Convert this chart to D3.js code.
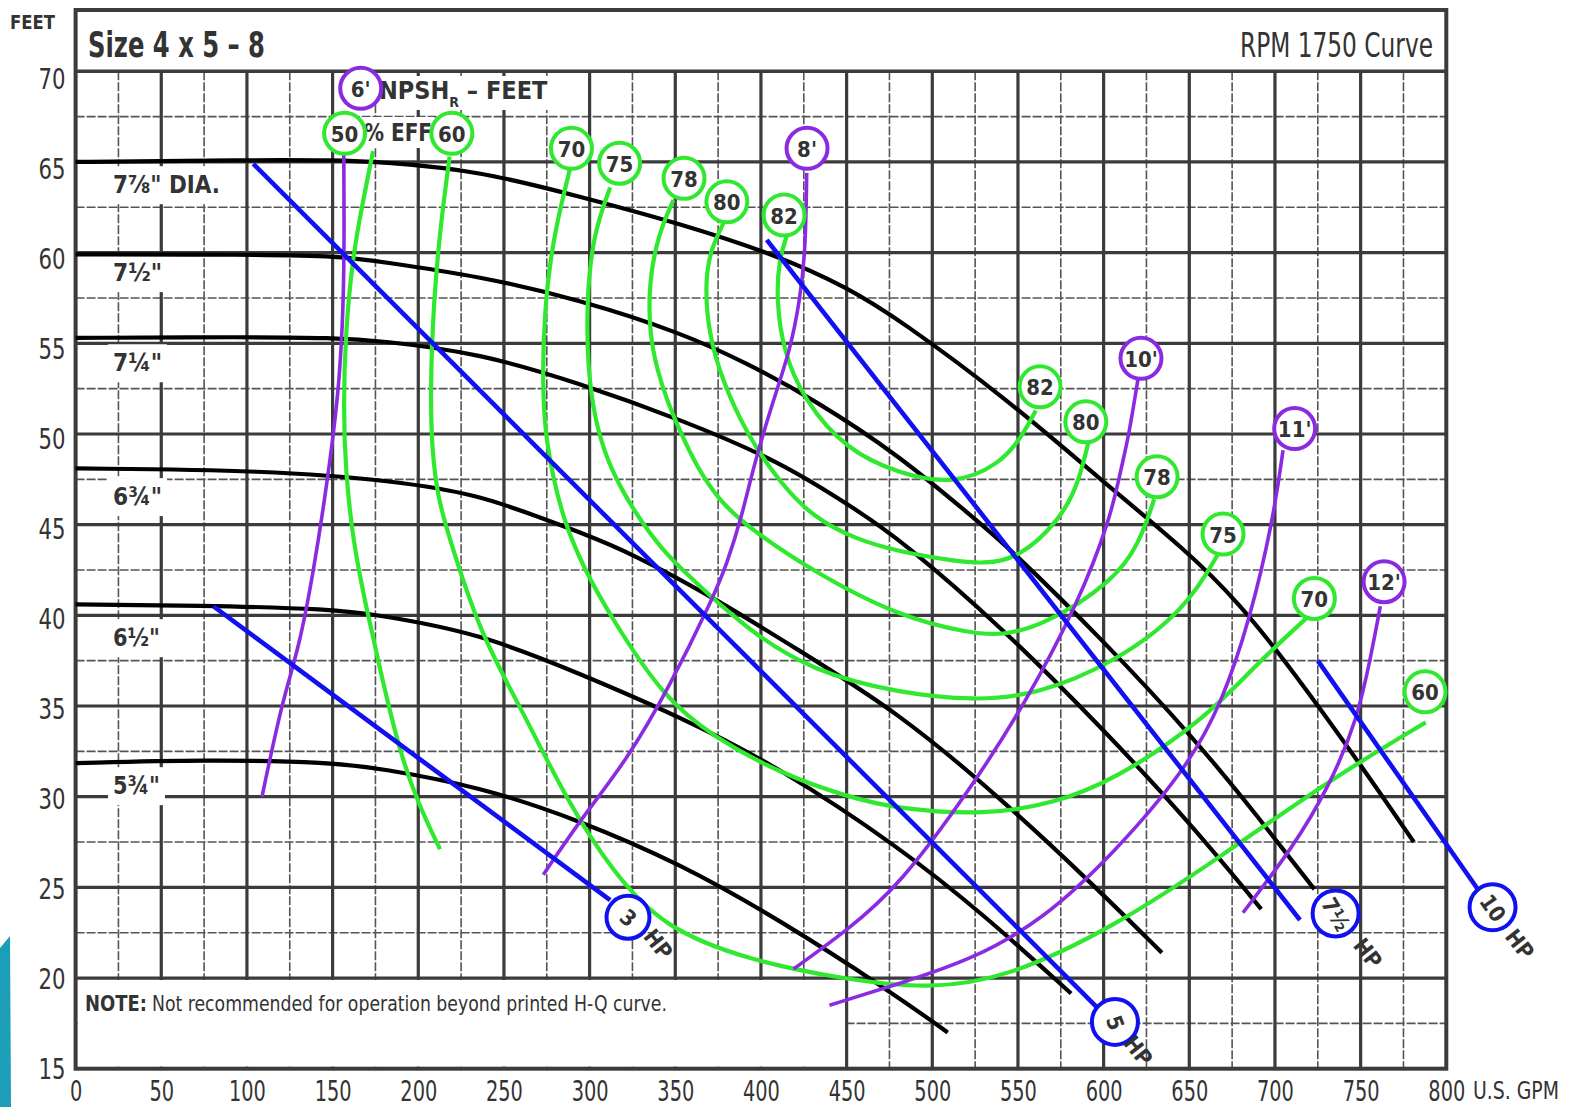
<!DOCTYPE html>
<html><head><meta charset="utf-8">
<script src="https://cdn.jsdelivr.net/npm/d3@7"></script>
<style>
body{margin:0;background:#fff;}
svg{display:block;}
</style></head><body>
<svg id="c" width="1572" height="1107"></svg>
<script>
// ---------- DATA ----------
const xTicks = [0,50,100,150,200,250,300,350,400,450,500,550,600,650,700,750,800];
const xTickLabels = ["0","50","100","150","200","250","300","350","400","450","500","550","600","650","700","750","800"];
const yTicks = [15,20,25,30,35,40,45,50,55,60,65,70];
const yTickLabels = ["15","20","25","30","35","40","45","50","55","60","65","70"];

// Impeller H-Q curves [gpm, feet]
const dia7875 = [[0,65.0],[50,65.05],[100,65.1],[150,65.1],[180,65.0],[236,64.5],[294,63.1],[353,61.6],[411,59.8],[450,58.1],[481,56.3],[544,51.9],[598,47.5],[648,43.6],[679,40.7],[710,37.0],[752,31.5],[781,27.5]];
const dia75   = [[0,59.9],[100,59.9],[156,59.8],[178,59.5],[236,58.7],[294,57.4],[353,55.6],[392,53.9],[431,51.9],[481,48.8],[525,45.3],[544,43.8],[600,38.6],[654,33.1],[690,28.9],[723,24.9]];
const dia725  = [[0,55.3],[100,55.35],[150,55.3],[178,55.15],[236,54.45],[294,52.8],[353,50.8],[411,48.5],[456,45.8],[481,44.2],[540,39.4],[600,33.7],[650,28.6],[692,23.8]];
const dia675  = [[0,48.1],[111,48.0],[189,47.4],[236,46.6],[265,45.6],[294,44.6],[325,43.4],[372,41.0],[420,38.2],[481,34.6],[540,29.9],[590,25.5],[634,21.4]];
const dia65   = [[0,40.6],[72,40.55],[150,40.35],[178,40.0],[236,39.0],[294,36.8],[353,34.4],[411,31.6],[481,27.2],[530,23.5],[581,19.15]];
const dia575  = [[0,31.85],[75,32.05],[150,31.9],[178,31.55],[236,30.55],[294,28.7],[353,26.3],[411,23.2],[475,19.3],[509,17.0]];
const diaLabels = ["7⅞\" DIA.","7½\"","7¼\"","6¾\"","6½\"","5¾\""];
const diaLabelFeet = [63.72,58.87,53.9,46.52,38.74,30.58];
const diaLabelWidth = [107,49,49,49,47,47];

// Efficiency curves [gpm, feet]
const eff50 = [[173.6,65.6],[167,62.5],[161.5,59.6],[157.5,55.5],[156.3,51.5],[157.5,48],[162,44],[169.5,40.5],[177.7,37.0],[189,32.5],[200,29.6],[212.7,27.1]];
const eff60 = [[218.3,65.3],[213,61.5],[209,57.4],[207,52.5],[208,49],[211.5,46.5],[217,44.6],[236,39.0],[259.4,35.0],[286.6,29.8],[313.8,25.8],[343,22.8],[391.7,21.0],[450,19.9],[498,19.4],[543.6,20.0],[606,22.8],[668.6,26.7],[731.4,30.9],[788,34.1]];
const eff70 = [[288.5,64.6],[283,62.5],[277.5,60],[273.5,56.5],[272.5,53],[274,50],[279,47.5],[285,45.2],[297,42.5],[313.8,39.7],[343,35.5],[372,33.3],[411,31.3],[450,30.0],[481,29.3],[531,29.0],[570,29.6],[606,30.9],[658.4,34.2],[689.6,37.35],[719,39.9]];
const eff75 = [[312,63.6],[302,61],[298.3,57.4],[298.8,53.7],[303,50.8],[310,48.6],[320,46.7],[330,45.2],[341,43.8],[352.8,42.6],[391.7,39.2],[430.5,36.9],[481,35.7],[525,35.3],[560,35.6],[606,37.35],[648,40.3],[667.5,43.5]];
const eff78 = [[348.9,62.9],[340,61],[334.5,58.3],[335,55.5],[339.5,53.5],[345,51.9],[353,50.1],[362.5,48.2],[375,46.4],[391.7,44.9],[430.5,42.4],[481,39.9],[522.8,39.0],[540,38.9],[564.5,39.4],[606.2,41.9],[621,44],[629.5,46.4]];
const eff80 = [[378,61.6],[370.3,60.1],[367.4,58.3],[369.3,55.55],[378,52.8],[391.7,50.0],[411.1,47.3],[430.6,45.4],[455,44.2],[481,43.5],[512.5,43.0],[530,42.85],[550,43.1],[575,45.3],[585.4,47.3],[591.5,49.7]];
const eff82 = [[415,60.9],[410.5,59.6],[409,57.4],[413,54.6],[424.8,51.9],[450,49.1],[481,47.8],[512,47.2],[539,48.3],[552,49.8],[560.4,51.3]];
const effLabelText = ["50","60","70","75","78","80","82","82","80","78","75","70","60"];
const effLabelGpm  = [157,219.6,289.4,317.5,355.1,380.1,413.5,562.9,589.6,631.2,669.7,723,787.6];
const effLabelFeet = [66.58,66.58,65.75,64.93,64.1,62.8,62.07,52.6,50.67,47.64,44.48,40.93,35.78];

// NPSHr curves [gpm, feet]
const npsh6  = [[156.5,65.8],[156.8,61],[156.3,57],[154,53],[150.5,50],[146,46.8],[139,42.5],[130.4,38.2],[120.6,35.3],[108.8,30.0]];
const npsh8  = [[426.7,64.4],[426,60.1],[422.8,57.4],[417,54.6],[407.3,51.9],[395.6,48.2],[389,45.5],[380,42.8],[372.2,41.0],[346.9,36.1],[321.7,32.0],[294.4,28.7],[273,25.7]];
const npsh10 = [[620,53.0],[614.5,49.8],[610.4,48.2],[604.2,45.4],[585.4,40.7],[554,35.1],[522.8,30.5],[481,25.1],[450,22.6],[419,20.5]];
const npsh11 = [[704.7,49.1],[699,45.3],[685.5,39.8],[668.8,35.1],[648,31.5],[606.3,26.9],[564.6,23.2],[522.8,21.0],[481,19.7],[440,18.5]];
const npsh12 = [[761.5,40.5],[756.3,37.9],[748,34.2],[731.3,30.5],[710.5,27.2],[681.3,23.6]];
const npshLabelText = ["6'","8'","10'","11'","12'"];
const npshLabelGpm  = [166.4,426.9,621.8,711.5,763.7];
const npshLabelFeet = [69.06,65.75,54.17,50.3,41.85];

// Horsepower lines [gpm, feet]
const hp3  = [[80.4,40.5],[312,24.3]];
const hp5  = [[103.7,64.9],[596,18.4]];
const hp75 = [[403.4,60.7],[714.6,23.2]];
const hp10 = [[725,37.5],[818,24.95]];
const hpLabelText = ["3","5","7½","10"];
const hpLabelGpm  = [322.4,606.6,735.4,827];
const hpLabelFeet = [23.35,17.58,23.56,23.9];

// ---------- DRAW ----------
const FONT = '"Liberation Sans Narrow","DejaVu Sans Condensed","Arial Narrow",sans-serif';
const INK = "#333";
const GREEN = "#2fe82f", PURPLE = "#8a2be2", BLUE = "#1010f0", BLACK = "#000";
const W = 1572, H = 1107;
const x = d3.scaleLinear().domain([0,800]).range([75.6,1446.3]);
const y = d3.scaleLinear().domain([15,70]).range([1068.7,71.3]);
const svg = d3.select("#c");
svg.append("rect").attr("width",W).attr("height",H).attr("fill","#fff");

// decorative slide edge
svg.append("path").attr("d","M0,948 L10,936 L11,1107 L0,1107 Z").attr("fill","#1c9db8");

// grid
const grid = svg.append("g");
const minorGpm = d3.range(25,800,50), majorGpm = d3.range(50,800,50);
const minorFeet = d3.range(17.5,70,5), majorFeet = d3.range(20,70,5);
grid.selectAll(".vmin").data(minorGpm).join("line")
  .attr("x1",d=>x(d)).attr("x2",d=>x(d)).attr("y1",y(70)).attr("y2",y(15))
  .attr("stroke","#555").attr("stroke-width",1.6).attr("stroke-dasharray","9,2");
grid.selectAll(".hmin").data(minorFeet).join("line")
  .attr("x1",x(0)).attr("x2",x(800)).attr("y1",d=>y(d)).attr("y2",d=>y(d))
  .attr("stroke","#555").attr("stroke-width",1.6).attr("stroke-dasharray","9,2");
grid.selectAll(".vmaj").data(majorGpm).join("line")
  .attr("x1",d=>x(d)).attr("x2",d=>x(d)).attr("y1",y(70)).attr("y2",y(15))
  .attr("stroke","#3b3b3b").attr("stroke-width",3.2);
grid.selectAll(".hmaj").data(majorFeet).join("line")
  .attr("x1",x(0)).attr("x2",x(800)).attr("y1",d=>y(d)).attr("y2",d=>y(d))
  .attr("stroke","#3b3b3b").attr("stroke-width",3.2);

// note box (blank area)
svg.append("rect").attr("x",x(0)+2).attr("y",y(20)+2)
  .attr("width",x(450)-x(0)-3.6).attr("height",y(15)-y(20)-4).attr("fill","#fff");

// header box
svg.append("rect").attr("x",x(0)).attr("y",10).attr("width",x(800)-x(0)).attr("height",y(70)-10).attr("fill","#fff");
svg.append("line").attr("x1",x(0)).attr("x2",x(800)).attr("y1",y(70)).attr("y2",y(70)).attr("stroke","#3b3b3b").attr("stroke-width",3.5);
// frame
svg.append("rect").attr("x",x(0)).attr("y",10).attr("width",x(800)-x(0)).attr("height",y(15)-10)
  .attr("fill","none").attr("stroke","#3b3b3b").attr("stroke-width",4);

function txt(parent, s, px, py, o={}) {
  const t = parent.append("text").attr("x",px).attr("y",py).text(s)
    .attr("font-family",FONT).attr("fill",o.fill||INK)
    .attr("font-size",o.size||22).attr("font-weight",o.weight||"bold")
    .attr("text-anchor",o.anchor||"start").attr("dominant-baseline",o.baseline||"auto");
  if (o.len) t.attr("textLength",o.len).attr("lengthAdjust","spacingAndGlyphs");
  if (o.rot) t.attr("transform",`rotate(${o.rot},${px},${py})`);
  return t;
}
function whiteBg(t, padX, padY) {
  const b = t.node().getBBox();
  d3.select(t.node().parentNode).insert("rect", () => t.node())
    .attr("x",b.x-padX).attr("y",b.y-padY).attr("width",b.width+2*padX).attr("height",b.height+2*padY).attr("fill","#fff");
}

// header texts
txt(svg,"Size 4 x 5 – 8",88,57,{size:36,len:177});
txt(svg,"RPM 1750 Curve",1433,57,{size:34,weight:"normal",anchor:"end",len:193});
txt(svg,"FEET",10,29,{size:20,len:45});

// axes
const xAxis = d3.axisBottom(x).tickValues(xTicks).tickFormat((d,i)=>xTickLabels[i]).tickSize(0).tickPadding(0);
const gx = svg.append("g").attr("transform",`translate(0,${y(15)+22})`).call(xAxis);
gx.select(".domain").remove();
gx.selectAll("text").attr("y",0).attr("dy","0.35em").attr("font-family",FONT).attr("font-size",29)
  .attr("fill",INK).attr("textLength",d=>String(d).length*12.3).attr("lengthAdjust","spacingAndGlyphs");
const yAxis = d3.axisLeft(y).tickValues(yTicks).tickFormat((d,i)=>yTickLabels[i]).tickSize(0).tickPadding(0);
const gy = svg.append("g").attr("transform",`translate(${x(0)-10},0)`).call(yAxis);
gy.select(".domain").remove();
gy.selectAll("text").attr("x",0).attr("dy","0.35em").attr("font-family",FONT).attr("font-size",29)
  .attr("fill",INK).attr("textLength",27).attr("lengthAdjust","spacingAndGlyphs")
  .attr("transform",d=>`translate(0,${(d-15)*0.12})`);
txt(svg,"U.S. GPM",1473,y(15)+22,{size:24,weight:"normal",baseline:"central",len:86});

// note
txt(svg,"NOTE:",85,1011,{size:22,len:62});
txt(svg,"Not recommended for operation beyond printed H-Q curve.",152,1011,{size:22,weight:"normal",len:515});

// diameter labels (with white background like the printed chart)
const diaG = svg.append("g");
diaLabels.forEach((s,i)=>{
  const t = txt(diaG,s,113,y(diaLabelFeet[i]),{size:24,baseline:"central",len:diaLabelWidth[i]});
  whiteBg(t,5,5);
});

// curves
const smooth = d3.line().x(d=>x(d[0])).y(d=>y(d[1])).curve(d3.curveBasis);
const straight = d3.line().x(d=>x(d[0])).y(d=>y(d[1]));
const hq = [dia7875,dia75,dia725,dia675,dia65,dia575];
svg.append("g").selectAll("path").data(hq).join("path").attr("d",smooth)
  .attr("fill","none").attr("stroke",BLACK).attr("stroke-width",4.2).attr("stroke-linecap","butt");
const eff = [eff50,eff60,eff70,eff75,eff78,eff80,eff82];
svg.append("g").selectAll("path").data(eff).join("path").attr("d",smooth)
  .attr("fill","none").attr("stroke",GREEN).attr("stroke-width",4.2);
const npsh = [npsh6,npsh8,npsh10,npsh11,npsh12];
svg.append("g").selectAll("path").data(npsh).join("path").attr("d",smooth)
  .attr("fill","none").attr("stroke",PURPLE).attr("stroke-width",3.6);
const hp = [hp3,hp5,hp75,hp10];
svg.append("g").selectAll("path").data(hp).join("path").attr("d",straight)
  .attr("fill","none").attr("stroke",BLUE).attr("stroke-width",4.6);

// annotation text
const ann = svg.append("g");
const effTxt = txt(ann,"% EFF",364,141,{size:25,len:68}); whiteBg(effTxt,2,1);
const npshTxt = ann.append("text").attr("x",379).attr("y",99).attr("font-family",FONT)
  .attr("font-size",25).attr("font-weight","bold").attr("fill",INK);
npshTxt.append("tspan").text("NPSH");
npshTxt.append("tspan").attr("font-size",14).attr("dy",8).text("R");
npshTxt.append("tspan").attr("dy",-8).text(" – FEET");
whiteBg(npshTxt,2,0);

// badges
function badge(q,h,s,color,r,rot,fs){
  const cx=x(q), cy=y(h);
  ann.append("circle").attr("cx",cx).attr("cy",cy).attr("r",r).attr("fill","#fff")
    .attr("stroke",color).attr("stroke-width",4);
  txt(ann,s,cx,cy+1,{size:fs||22,anchor:"middle",baseline:"central",rot:rot||0});
}
effLabelText.forEach((s,i)=>badge(effLabelGpm[i],effLabelFeet[i],s,GREEN,20.5,0,22));
npshLabelText.forEach((s,i)=>badge(npshLabelGpm[i],npshLabelFeet[i],s,PURPLE,20.5,0,22));
const hpRot = [40,70,60,55];
hpLabelText.forEach((s,i)=>{
  badge(hpLabelGpm[i],hpLabelFeet[i],s,BLUE,i===0?21.5:23,hpRot[i],22);
});
const hpOff = [[30,27],[23,29],[32,40],[27,37]];
hpLabelGpm.forEach((q,i)=>{
  txt(ann,"HP",x(q)+hpOff[i][0],y(hpLabelFeet[i])+hpOff[i][1],{size:22,anchor:"middle",baseline:"central",rot:52});
});
</script>
</body></html>
